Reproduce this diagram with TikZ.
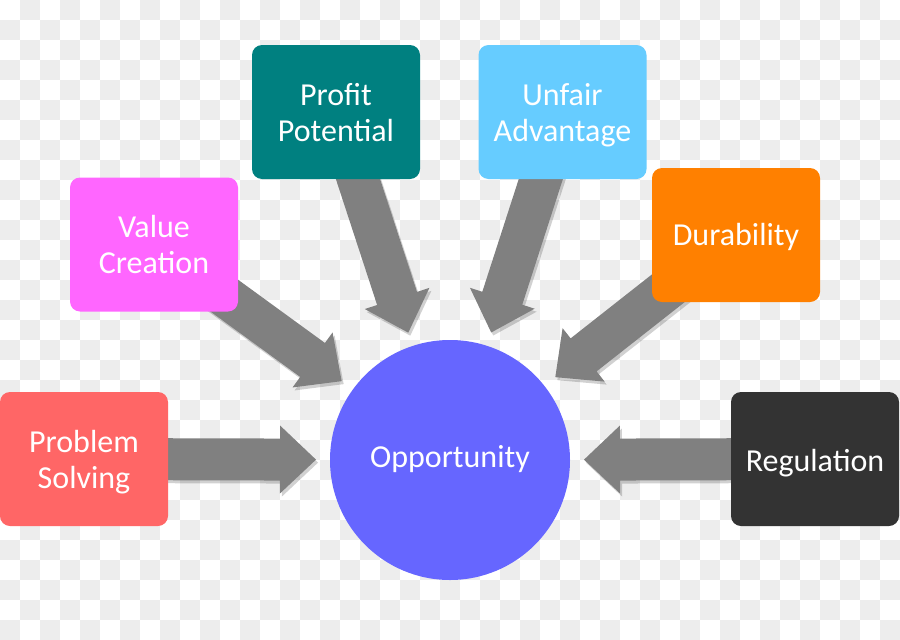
\documentclass[tikz,border=0pt]{standalone}
\usepackage{fontspec}
\setmainfont{Carlito}
\usetikzlibrary{calc}
\pgfdeclarelayer{bg}
\pgfdeclarelayer{arr}
\pgfsetlayers{bg,arr,main}
\definecolor{chk}{HTML}{EDEDED}
\definecolor{cps}{HTML}{FF6666}
\definecolor{cvc}{HTML}{FF66FF}
\definecolor{cpp}{HTML}{008080}
\definecolor{cua}{HTML}{66CCFF}
\definecolor{cdu}{HTML}{FF8000}
\definecolor{crg}{HTML}{333333}
\definecolor{cop}{HTML}{6666FF}
\definecolor{carr}{HTML}{808080}
\newcommand\arrowpoly[3]{%
  ($(#1.center)!21pt!90:(#2.center)$) --
  ($(#3h)!21pt!90:(#2.center)$) --
  ($(#3h)!34pt!90:(#2.center)$) --
  (#3t) --
  ($(#3h)!34pt!-90:(#2.center)$) --
  ($(#3h)!21pt!-90:(#2.center)$) --
  ($(#1.center)!21pt!-90:(#2.center)$) -- cycle}
\newcommand\bigarrow[3]{%
  \coordinate (#3t) at ($(#2.center)!134pt!(#1.center)$);
  \coordinate (#3h) at ($(#2.center)!170pt!(#1.center)$);
  \begin{scope}[transform canvas={shift={(2pt,-3pt)}}]
    \fill[arrowshadow] \arrowpoly{#1}{#2}{#3};
  \end{scope}
  \fill[arrowbody] \arrowpoly{#1}{#2}{#3};
}
\tikzset{
  box/.style={rounded corners=10pt, minimum width=168pt, minimum height=134pt,
    inner sep=0pt, text=white, align=center,
    font=\fontsize{32pt}{36pt}\selectfont},
  twoline/.style={text height=58pt, text depth=0pt},
  oneline/.style={text height=#1, text depth=0pt},
  arrowbody/.style={fill=carr},
  arrowshadow/.style={fill=black, opacity=0.18},
}
\begin{document}
\begin{tikzpicture}[x=1pt,y=-1pt]
\useasboundingbox (0,0) rectangle (900,640);
\begin{pgfonlayer}{bg}
  \clip (0,0) rectangle (900,640);
  \fill[white] (0,0) rectangle (900,640);
  \foreach \j in {0,...,31}{
    \pgfmathsetmacro\off{mod(\j+1,2)*20}
    \foreach \i in {0,2,...,44}{
      \fill[chk] (\i*20+\off,\j*20) rectangle +(20,20);
    }
  }
\end{pgfonlayer}
\node[box, twoline, fill=cps] (ps) at (84,459) {Problem\\Solving};
\node[box, twoline, fill=cvc] (vc) at (154,244.5) {Value\\Creation};
\node[box, twoline, fill=cpp] (pp) at (336,112) {Profit\\Potential};
\node[box, twoline, fill=cua] (ua) at (562.5,112) {Unfair\\Advantage};
\node[box, oneline=20pt, fill=cdu] (du) at (736,235) {Durability};
\node[box, oneline=24pt, fill=crg] (rg) at (815,459) {Regulation};
\node[circle, fill=cop, minimum size=240pt, inner sep=0pt, text=white,
  oneline=14pt, font=\fontsize{32pt}{36pt}\selectfont] (opp) at (450,460) {Opportunity};
\begin{pgfonlayer}{arr}
  \bigarrow{ps}{opp}{a1}
  \bigarrow{vc}{opp}{a2}
  \bigarrow{pp}{opp}{a3}
  \bigarrow{ua}{opp}{a4}
  \bigarrow{du}{opp}{a5}
  \bigarrow{rg}{opp}{a6}
\end{pgfonlayer}
\end{tikzpicture}
\end{document}
